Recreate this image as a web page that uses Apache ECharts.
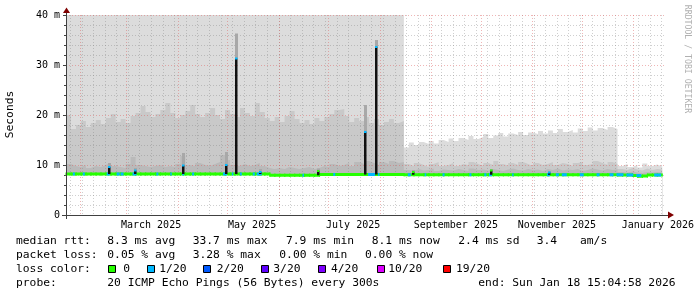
<!DOCTYPE html>
<html><head><meta charset="utf-8">
<script src="https://cdn.jsdelivr.net/npm/echarts@6/dist/echarts.min.js"></script>
<style>html,body{margin:0;padding:0;background:#fff}#c{width:697px;height:297px}</style>
</head><body><div id="c"></div>
<script>
function ts(s){const p=s.split(' ');const d=p[0].split('-').map(Number);const t=(p[1]||'00:00').split(':').map(Number);return Date.UTC(d[0],d[1]-1,d[2],t[0],t[1],t[2]||0);}
const START = ts('2025-01-23 15:04:58');
const END = ts('2026-01-18 15:04:58');
const BUCKET_DAYS = 3;

// smoke envelope per 3-day bucket (ms): highest pings, middle band, band close to the median
const smokeTop = [
 60,60,60,60,60,60,60,60,60,60,60,60,60,60,60,60,60,60,60,60,
 60,60,60,60,60,60,60,60,60,60,60,60,60,60,60,60,60,60,60,60,
 60,60,60,60,60,60,60,60,60,60,60,60,60,60,60,60,60,60,60,60,
 60,60,60,60,60,60,60,60,
 13.5,14.5,14.0,14.6,14.2,14.8,14.3,15.0,14.6,15.3,14.8,15.4,15.0,15.8,15.2,15.6,16.2,15.4,15.9,16.4,
 15.7,16.3,16.0,16.6,16.0,16.5,16.2,16.8,16.3,16.9,16.4,17.2,16.6,17.0,16.5,17.3,16.8,17.5,16.9,17.4,
 17.0,17.6,17.2,
 9.8,10.2,9.6,10.0,9.5,10.3,9.8,10.1,9.7];
const smokeMid = [
 20.0,17.2,18.0,18.8,17.6,18.4,19.0,18.2,19.4,20.2,18.6,19.2,18.4,19.8,20.4,21.8,20.6,19.6,20.2,21.0,
 22.4,20.4,19.4,20.0,20.8,22.0,20.2,19.6,20.4,21.4,20.0,19.2,21.0,20.2,19.6,21.4,20.4,19.8,22.4,20.6,
 19.4,18.8,19.6,18.6,19.8,20.8,19.2,18.4,19.0,18.2,19.4,18.8,19.6,20.2,21.0,21.2,19.8,18.6,19.4,18.8,
 19.6,18.4,19.2,18.0,18.6,19.2,18.4,18.8,
 10.2,9.8,10.4,10.0,9.6,10.2,10.6,9.8,10.0,10.4,9.8,10.2,10.0,10.6,10.2,9.8,10.4,10.0,10.8,10.2,
 9.9,10.4,10.0,10.6,10.2,9.8,10.4,10.0,10.2,10.6,10.0,10.4,10.2,9.8,10.4,10.6,10.0,10.2,10.8,10.4,
 10.0,10.6,10.2,
 9.2,9.0,9.4,9.1,8.9,9.3,9.0,9.2,9.1];
const smokeLow = [
 10.2,9.8,9.6,10.0,9.4,9.8,9.6,10.0,10.4,9.8,9.6,9.4,10.2,11.6,10.0,9.8,9.6,9.8,10.0,9.6,
 9.8,9.6,10.2,11.8,10.0,9.8,10.4,10.0,9.8,10.2,10.6,12.0,11.0,10.0,9.8,10.2,9.8,10.0,10.4,9.8,
 9.4,9.2,9.4,9.2,9.6,9.4,9.2,9.4,9.6,9.2,9.4,9.8,9.6,10.2,9.8,10.0,10.4,9.8,10.6,10.2,
 10.8,10.4,10.0,10.6,10.2,10.8,10.4,10.6,
 9.0,8.8,9.2,8.9,9.0,9.3,8.8,9.1,9.0,8.9,9.2,9.0,8.8,9.3,9.0,9.1,8.9,9.2,9.0,8.8,
 9.1,9.3,9.0,8.9,9.2,9.0,9.1,8.8,9.2,9.0,9.3,8.9,9.1,9.0,9.2,8.8,9.0,9.3,9.1,8.9,
 9.2,9.0,9.1,
 8.6,8.5,8.7,8.5,8.4,8.6,8.5,8.6,8.5];
const medianRtt = [
 8.2,8.2,8.2,8.2,8.2,8.2,8.2,8.2,8.2,8.2,8.2,8.2,8.2,8.2,8.2,8.2,8.2,8.2,8.2,8.2,
 8.2,8.2,8.2,8.2,8.2,8.2,8.2,8.2,8.2,8.2,8.2,8.2,8.2,8.2,8.2,8.2,8.2,8.2,8.2,8.2,
 8.2,7.95,7.95,7.95,7.95,7.95,7.95,7.95,7.95,7.95,7.95,8.1,8.1,8.1,8.1,8.1,8.1,8.1,8.1,8.1,
 8.1,8.1,8.1,8.1,8.1,8.1,8.1,8.1,
 8.05,8.05,8.05,8.05,8.05,8.05,8.05,8.05,8.05,8.05,8.05,8.05,8.05,8.05,8.05,8.05,8.05,8.05,8.05,8.05,
 8.05,8.05,8.05,8.05,8.05,8.05,8.05,8.05,8.05,8.05,8.05,8.05,8.05,8.05,8.05,8.05,8.05,8.05,8.05,8.05,
 8.05,8.05,8.05,
 8.0,8.0,8.0,7.9,7.75,7.8,8.0,8.0,8.0];

// packet-loss periods (median drawn in loss colour)
const lossStart = ['2025-01-27 19:00','2025-02-02 19:00','2025-02-17 05:00','2025-02-23 05:00','2025-02-25 14:00','2025-03-04 19:00','2025-03-19 05:00','2025-03-27 14:00','2025-04-03 19:00','2025-04-09 19:00','2025-04-28 10:00','2025-05-03 19:00','2025-05-08 14:00','2025-05-16 10:00','2025-05-18 19:00','2025-06-15 10:00','2025-07-04 00:00','2025-07-25 00:00','2025-07-31 00:00','2025-08-18 00:00','2025-08-28 05:00','2025-09-08 00:00','2025-09-24 05:00','2025-10-03 05:00','2025-10-06 00:00','2025-10-20 00:00','2025-11-10 00:00','2025-11-15 10:00','2025-11-19 00:00','2025-11-29 19:00','2025-12-10 00:00','2025-12-17 19:00','2025-12-22 00:00','2025-12-28 00:00','2026-01-03 00:00','2026-01-13 19:00'];
const lossDays = [1.2,1.2,1.8,1.8,1.8,2.4,1.2,0.6,1.2,1.2,2.4,0.6,1.2,1.2,3,0.6,1.2,4.2,0.6,1.8,0.6,1.2,1.2,1.2,1.8,0.6,1.8,1.8,3,2.4,1.8,2.4,4.2,4.2,3,4.2];
const lossLevel = [1,1,1,1,1,1,1,1,1,1,1,1,1,1,1,1,1,1,1,1,1,1,1,1,1,1,1,1,1,1,1,1,1,1,1,1];

// short median spikes
const spikeTime = ['2025-02-18 10:00','2025-03-06 01:00','2025-04-04 10:00','2025-04-30 06:00','2025-05-06 06:00','2025-05-20 15:00','2025-06-25 01:00','2025-07-23 06:00','2025-07-29 20:00','2025-08-21 01:00','2025-10-07 10:00','2025-11-11 06:00'];
const spikeValue = [9.6,8.9,9.9,10.0,31.3,8.6,8.8,16.6,33.6,8.6,8.9,8.5];
const spikeSmoke = [10.4,9.4,12.4,12.6,36.3,9.2,9.3,22.0,35.0,9.0,9.2,8.8];
const spikeLoss = [1,1,1,1,1,1,0,1,1,0,0,1];

const yTickValues = [0,10,20,30,40];
const yTickLabels = ['0','10 m','20 m','30 m','40 m'];
const xTickDates = ['2025-03-16','2025-05-16','2025-07-16','2025-09-16','2025-11-16','2026-01-16'];
const xTickLabels = ['March 2025','May 2025','July 2025','September 2025','November 2025','January 2026'];
const lossColors = ['#26ff00','#00b8ff','#0059ff','#5e00ff','#7e00ff','#dd00ff','#ff0000'];
const lossNames = ['0','1/20','2/20','3/20','4/20','10/20','19/20'];

const DAY = 86400000;
const bucketT = medianRtt.map((_, i) => START + i * BUCKET_DAYS * DAY);
function stepData(arr){ const d = arr.map((v,i)=>[bucketT[i], v]); d.push([END, arr[arr.length-1]]); return d; }
function bucketOf(t){ return Math.max(0, Math.min(medianRtt.length-1, Math.floor((t-START)/(BUCKET_DAYS*DAY)))); }
const xTickTimes = xTickDates.map(ts);

// grid lines
const gridRows = [];
{ let t = ts('2025-01-26'); while (t < END) { if (t > START) gridRows.push([t,0,0,0]); t += 7*DAY; } }
for (let k=1;k<=12;k++){ const t = Date.UTC(2025, k, 1); if (t>START && t<END) gridRows.push([t,0,0,1]); }
for (let v=2; v<=40; v+=2) gridRows.push([START, v, 1, v%10===0?1:0]);

const medRows = medianRtt.map((m,i)=>[bucketT[i], i+1<bucketT.length?bucketT[i+1]:END, m, i>0?medianRtt[i-1]:m]);
const lossRows = lossStart.map((s,i)=>{const t=ts(s); return [t, t+lossDays[i]*DAY, medianRtt[bucketOf(t)], lossLevel[i]];});
const spikeRows = spikeTime.map((s,i)=>{const t=ts(s); return [t, spikeValue[i], spikeSmoke[i], spikeLoss[i], medianRtt[bucketOf(t)]];});

function area(name, arr, color, z){
  return {name, type:'line', step:'end', data: stepData(arr), showSymbol:false, symbol:'none', z,
    lineStyle:{width:0}, areaStyle:{color, opacity:1, origin:'start'}, itemStyle:{color}, silent:true, animation:false};
}

const chart = echarts.init(document.getElementById('c'), null, {renderer:'canvas'});
const mono = 'DejaVu Sans Mono';
const graphics = [];
graphics.push({type:'polygon', shape:{points:[[63,13],[70,13],[66.5,7.5]]}, style:{fill:'#7f0000'}, z:100});
graphics.push({type:'polygon', shape:{points:[[668,211.5],[668,218.5],[674,215]]}, style:{fill:'#7f0000'}, z:100});
graphics.push({type:'line', shape:{x1:62,y1:215.5,x2:668,y2:215.5}, style:{stroke:'#404040',lineWidth:1}, z:99});
graphics.push({type:'line', shape:{x1:66.5,y1:219,x2:66.5,y2:12}, style:{stroke:'#404040',lineWidth:1}, z:99});
graphics.push({type:'text', x:10.5, y:114.5, rotation:Math.PI/2, style:{text:'Seconds', fontFamily:mono, fontSize:11.3, fill:'#000', align:'center', verticalAlign:'middle'}, z:100});
graphics.push({type:'text', x:687.5, y:59, rotation:-Math.PI/2, style:{text:'RRDTOOL / TOBI OETIKER', fontFamily:mono, fontSize:8.2, fill:'#b0b0b0', align:'center', verticalAlign:'middle'}, z:100});
function lt(text, x, y){ graphics.push({type:'text', x, y, style:{text, fontFamily:mono, fontSize:11.3, fill:'#000', align:'left', verticalAlign:'middle'}, z:100}); }
lt('median rtt:',16,241); lt('8.3 ms avg',107.3,241); lt('33.7 ms max',192.7,241); lt('7.9 ms min',286,241); lt('8.1 ms now',371.7,241); lt('2.4 ms sd',458.3,241); lt('3.4',536.7,241); lt('am/s',580,241);
lt('packet loss:',16,255); lt('0.05 % avg',107.3,255); lt('3.28 % max',192.7,255); lt('0.00 % min',279.3,255); lt('0.00 % now',365,255);
lt('loss color:',16,269);
const boxX = [108.3,146.7,203.3,260.7,318.3,376.7,442.7];
const boxLabelX = [123.3,159.3,216.7,273.3,331,388.3,456];
lossNames.forEach((n,i)=>{
  graphics.push({type:'rect', shape:{x:Math.round(boxX[i])+0.5, y:265.5, width:7, height:7}, style:{fill:lossColors[i], stroke:'#000', lineWidth:1}, z:100});
  lt(n, boxLabelX[i], 269);
});
lt('probe:',16,283); lt('20 ICMP Echo Pings (56 Bytes) every 300s',107.3,283); lt('end: Sun Jan 18 15:04:58 2026',478.3,283);

const option = {
  animation:false,
  backgroundColor:'#ffffff',
  grid:{left:66, top:15, width:600, height:200, containLabel:false},
  xAxis:{type:'value', min:START, max:END, scale:true,
    axisLine:{show:false}, axisTick:{show:false}, splitLine:{show:false},
    axisLabel:{customValues:xTickTimes, formatter:(v)=>{const i=xTickTimes.indexOf(v); return i>=0?xTickLabels[i]:'';}, margin:5, fontFamily:mono, fontSize:10, color:'#000', hideOverlap:false}},
  yAxis:{type:'value', min:0, max:40, interval:10,
    axisLine:{show:false},
    axisTick:{show:true, length:3, lineStyle:{color:'#404040'}},
    minorTick:{show:true, splitNumber:5, length:2, lineStyle:{color:'#404040'}},
    splitLine:{show:false},
    axisLabel:{formatter:(v)=>{const i=yTickValues.indexOf(v); return i>=0?yTickLabels[i]:'';}, margin:6, fontFamily:mono, fontSize:10, color:'#000'}},
  graphic: graphics,
  series:[
    area('top', smokeTop, '#dcdcdc', 1),
    area('mid', smokeMid, '#c9c9c9', 1),
    area('low', smokeLow, '#bababa', 1),
    area('floor', medianRtt, '#ffffff', 1),
    {type:'custom', name:'grid', silent:true, clip:false, z:3, data:gridRows, encode:{x:0,y:1},
      renderItem:(params, api)=>{
        const cs = params.coordSys; const orient=api.value(2), major=api.value(3);
        const stroke = major ? 'rgba(220,90,90,0.45)' : 'rgba(130,130,130,0.38)';
        if (orient===0){ const x=Math.round(api.coord([api.value(0),0])[0])+0.5;
          return {type:'line', shape:{x1:x,y1:cs.y,x2:x,y2:cs.y+cs.height}, style:{stroke, lineWidth:1, lineDash:[1,2]}}; }
        const y=Math.round(api.coord([START, api.value(1)])[1])+0.5;
        return {type:'line', shape:{x1:cs.x,y1:y,x2:cs.x+cs.width+2,y2:y}, style:{stroke, lineWidth:1, lineDash:[1,2]}};
      }},
    {type:'custom', name:'median', silent:true, z:4, data:medRows, encode:{x:[0,1],y:2},
      renderItem:(params, api)=>{
        const t0=api.value(0), t1=api.value(1), m=api.value(2), pm=api.value(3);
        const a=api.coord([t0,m]), b=api.coord([t1,m]), q=api.coord([t0,pm]);
        const ya=Math.min(a[1],q[1])-1.5, yb=Math.max(a[1],q[1])+1.5;
        return {type:'group', children:[
          {type:'rect', shape:{x:a[0], y:a[1]-1.5, width:b[0]-a[0]+0.6, height:3}, style:{fill:lossColors[0]}},
          {type:'rect', shape:{x:a[0]-0.5, y:ya, width:1.2, height:yb-ya}, style:{fill:lossColors[0]}}
        ]};
      }},
    {type:'custom', name:'loss', silent:true, z:5, data:lossRows, encode:{x:[0,1],y:2},
      renderItem:(params, api)=>{
        const a=api.coord([api.value(0), api.value(2)]), b=api.coord([api.value(1), api.value(2)]);
        return {type:'rect', shape:{x:a[0], y:a[1]-1.5, width:Math.max(1.5,b[0]-a[0]), height:3}, style:{fill:lossColors[api.value(3)]}};
      }},
    {type:'custom', name:'spikes', silent:true, z:6, data:spikeRows, encode:{x:0,y:1},
      renderItem:(params, api)=>{
        const t=api.value(0), v=api.value(1), s=api.value(2), l=api.value(3), base=api.value(4);
        const p=api.coord([t,v]), ps=api.coord([t,s]), pb=api.coord([t,base]);
        const x=Math.round(p[0]);
        return {type:'group', children:[
          {type:'rect', shape:{x:x-1, y:ps[1], width:3, height:p[1]-ps[1]}, style:{fill:'#a8a8a8'}},
          {type:'rect', shape:{x:x-1, y:p[1], width:2.5, height:pb[1]-p[1]}, style:{fill:'#111111'}},
          {type:'rect', shape:{x:x-1, y:p[1]-1, width:2.5, height:2}, style:{fill:lossColors[l]}}
        ]};
      }}
  ]
};
chart.setOption(option);
</script>
</body></html>
